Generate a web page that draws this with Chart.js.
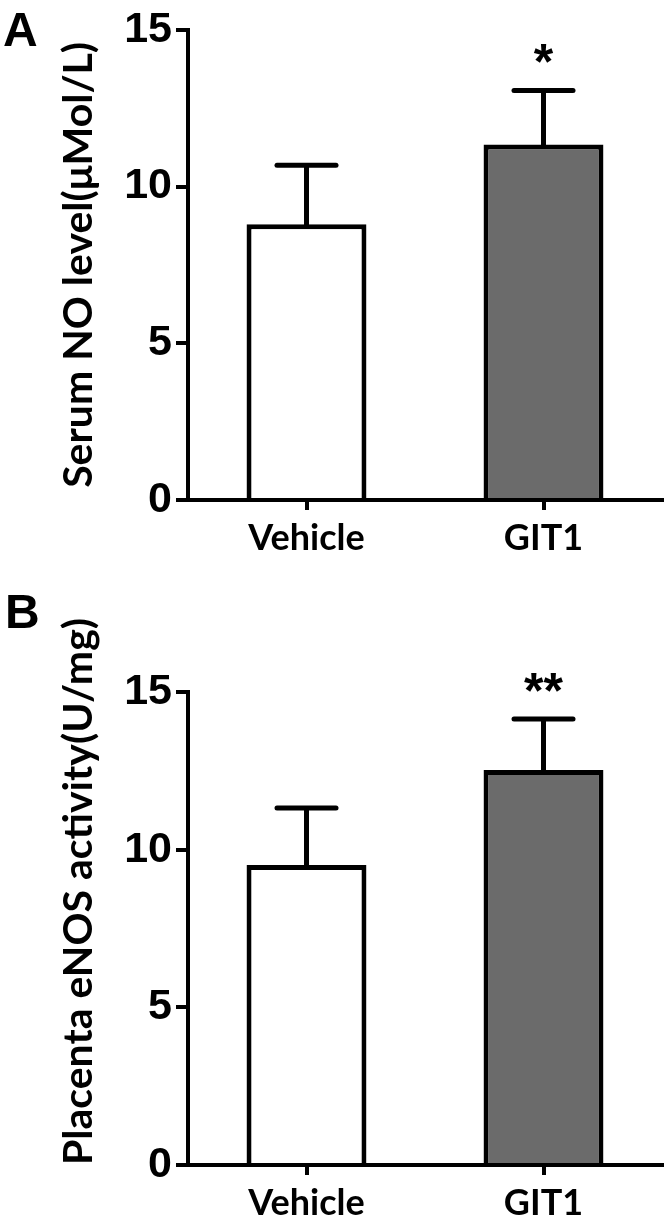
<!DOCTYPE html>
<html>
<head>
<meta charset="utf-8">
<script src="https://cdn.jsdelivr.net/npm/chart.js@4.4.0/dist/chart.umd.min.js"></script>
<style>
html, body { margin: 0; padding: 0; background: #fff; }
#wrap { position: relative; width: 670px; height: 1225px; }
.panel { position: absolute; left: 0; width: 670px; }
.letter { position: absolute; font-family: "Liberation Sans", Arial, sans-serif; font-weight: bold; font-size: 48px; line-height: 48px; color: #000; }
</style>
</head>
<body>
<div id="wrap">
  <div class="panel" style="top:0;height:575px"><canvas id="chartA"></canvas></div>
  <div class="panel" style="top:575px;height:650px"><canvas id="chartB"></canvas></div>
  <div class="letter" style="left:3px;top:6px">A</div>
  <div class="letter" style="left:5px;top:588px">B</div>
</div>
<script>
var categories = ['Vehicle', 'GIT1'];
var yTicks = [0, 5, 10, 15];
var barColors = ['#ffffff', '#6b6b6b'];

// panel A: serum NO
var serumNO = [8.8, 11.34];
var serumNOSem = [1.88, 1.72];
var serumNOSig = ['', '*'];

// panel B: placenta eNOS
var enosActivity = [9.51, 12.53];
var enosSem = [1.81, 1.61];
var enosSig = ['', '**'];

var errorBarPlugin = {
  id: 'errorBars',
  afterDatasetsDraw: function (chart, args, opts) {
    var ctx = chart.ctx;
    var meta = chart.getDatasetMeta(0);
    var y = chart.scales.y;
    var values = chart.data.datasets[0].data;
    ctx.save();
    ctx.strokeStyle = '#000';
    ctx.fillStyle = '#000';
    ctx.lineWidth = 5;
    meta.data.forEach(function (bar, i) {
      var top = y.getPixelForValue(values[i] + opts.sem[i]);
      ctx.lineCap = 'butt';
      ctx.beginPath();
      ctx.moveTo(bar.x, bar.y + 2);
      ctx.lineTo(bar.x, top);
      ctx.stroke();
      ctx.lineCap = 'round';
      ctx.beginPath();
      ctx.moveTo(bar.x - 29.5, top);
      ctx.lineTo(bar.x + 29.5, top);
      ctx.stroke();
      if (opts.sig[i]) {
        ctx.font = 'bold 50px "Liberation Sans", Arial';
        ctx.textAlign = 'center';
        ctx.textBaseline = 'alphabetic';
        var m = ctx.measureText(opts.sig[i]);
        var cy = top - 37;
        ctx.fillText(opts.sig[i], bar.x, cy + (m.actualBoundingBoxAscent - m.actualBoundingBoxDescent) / 2);
      }
    });
    ctx.restore();
  }
};

function makeChart(id, values, sem, sig, title, padTop, xHeight, titleAlign) {
  return new Chart(document.getElementById(id), {
    type: 'bar',
    data: {
      labels: categories,
      datasets: [{
        data: values,
        backgroundColor: barColors,
        borderColor: '#000',
        borderWidth: 5,
        barPercentage: 0.506,
        categoryPercentage: 1
      }]
    },
    options: {
      responsive: true,
      maintainAspectRatio: false,
      animation: false,
      layout: { padding: { top: padTop, right: 8, left: 0, bottom: 0 } },
      plugins: {
        legend: { display: false },
        tooltip: { enabled: false },
        errorBars: { sem: sem, sig: sig }
      },
      scales: {
        x: {
          z: 1,
          grid: { offset: false, drawOnChartArea: false, tickLength: 10, color: '#000', lineWidth: 4 },
          border: { color: '#000', width: 4 },
          ticks: { color: '#000', padding: 7, font: { family: 'Lato', weight: 'bold', size: 36 } },
          afterFit: function (s) { s.height = xHeight; }
        },
        y: {
          min: 0,
          max: 15,
          afterBuildTicks: function (s) {
            s.ticks = yTicks.map(function (v) { return { value: v }; });
          },
          grid: { drawOnChartArea: false, tickLength: 12, color: '#000', lineWidth: 4 },
          border: { color: '#000', width: 4 },
          ticks: { color: '#000', padding: 4, font: { family: '"Liberation Sans", Arial', weight: 'bold', size: 43 } },
          title: {
            display: true,
            text: title,
            color: '#000',
            align: titleAlign,
            padding: { top: 54, bottom: 0 },
            font: { family: 'Lato', weight: 'bold', size: 41 }
          },
          afterFit: function (s) { s.width = 188; }
        }
      }
    },
    plugins: [errorBarPlugin]
  });
}

makeChart('chartA', serumNO, serumNOSem, serumNOSig, 'Serum NO level(\u03bcMol/L)', 28, 75, 'center');
makeChart('chartB', enosActivity, enosSem, enosSig, 'Placenta eNOS activity(U/mg)', 117, 60, 'start');
</script>
</body>
</html>
